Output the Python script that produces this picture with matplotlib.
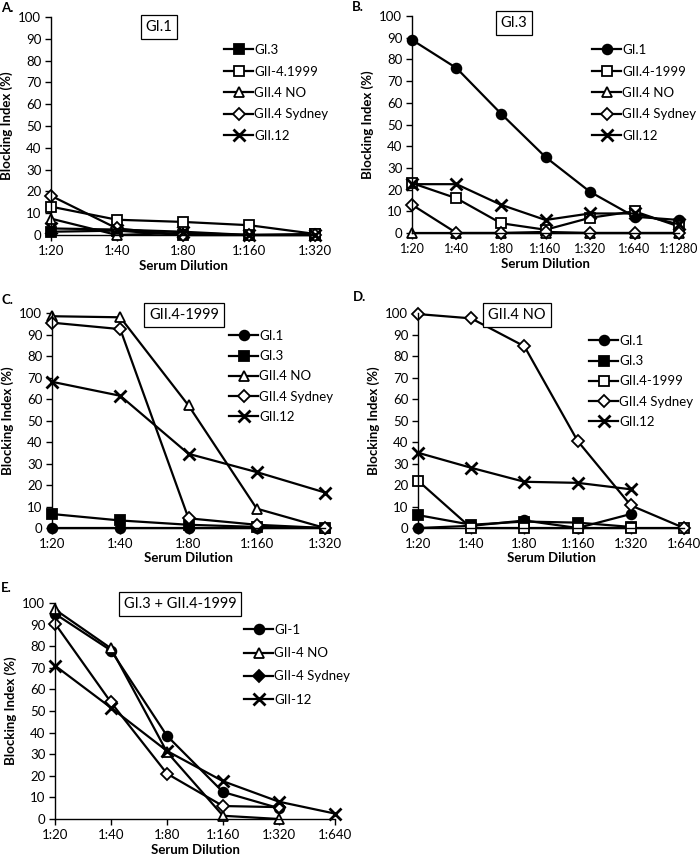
import numpy as np
import matplotlib
matplotlib.use("Agg")
import matplotlib.pyplot as plt

plt.rcParams['font.family'] = ['Lato', 'DejaVu Sans']

nan = np.nan

# Panel A: GI.1
dil_a = ["1:20", "1:40", "1:80", "1:160", "1:320"]
a_gi3 = [1.5, 2, 0, 0, 0.5]
a_gii4_1999 = [13, 7, 6, 4.5, 0.5]
a_gii4_no = [7.5, 0, 1, 0, 0]
a_sydney = [18, 3, 0, 0, 0]
a_gii12 = [3, 2.5, 1.5, 0, 0]

# Panel B: GI.3
dil_b = ["1:20", "1:40", "1:80", "1:160", "1:320", "1:640", "1:1280"]
b_gi1 = [89, 76, 55, 35, 19, 7.5, 6]
b_gii4_1999 = [23, 16, 4.5, 1.5, 7, 10, 3]
b_gii4_no = [0, 0, 0, 0, 0, 0, 0]
b_sydney = [13, 0, 0, 0.5, 0, 0, 0]
b_gii12 = [22.5, 22.5, 13, 6, 9, 9, 4]

# Panel C: GII.4-1999
dil_c = ["1:20", "1:40", "1:80", "1:160", "1:320"]
c_gi1 = [0, 0, 0, 0, 0]
c_gi3 = [6.5, 3.5, 1.5, 0.5, 0]
c_gii4_no = [98.5, 98, 57, 9, 0]
c_sydney = [95.5, 92.5, 4.5, 1.5, 0]
c_gii12 = [68, 61.5, 34.5, 26, 16.5]

# Panel D: GII.4 NO
dil_d = ["1:20", "1:40", "1:80", "1:160", "1:320", "1:640"]
d_gi1 = [0, 1, 3.5, 0, 6.5, nan]
d_gi3 = [6, 1.5, 3, 2.5, 0.5, nan]
d_gii4_1999 = [22, 0, 0, 0, 0, 0]
d_sydney = [99.5, 97.5, 84.5, 40.5, 10.5, 0]
d_gii12 = [35, 28, 21.5, 21, 18, nan]

# Panel E: GI.3 + GII.4-1999
dil_e = ["1:20", "1:40", "1:80", "1:160", "1:320", "1:640"]
e_gi1 = [95, 78, 38.5, 12.5, 5, nan]
e_gii4_no = [97, 79, 31, 1.5, 0, nan]
e_sydney = [90.5, 54, 21, 6, 5.5, nan]
e_gii12 = [71, 51.5, 31.5, 17.5, 8, 2.5]

W, H = 700, 857
fig = plt.figure(figsize=(W / 100, H / 100), dpi=100)

STYLES = {
    'circle': dict(marker='o', mfc='black'),
    'fsquare': dict(marker='s', mfc='black'),
    'osquare': dict(marker='s', mfc='white'),
    'triangle': dict(marker='^', mfc='white'),
    'diamond': dict(marker='D', mfc='white', ms=6.5),
    'cross': dict(marker='x', mew=2, ms=8),
}


def make_panel(x0, x1, y0, y1, letter, title, title_xy, dil, series, leg_xy, leg_space):
    ax = fig.add_axes([x0 / W, 1 - y1 / H, (x1 - x0) / W, (y1 - y0) / H])
    x = np.arange(len(dil))
    for label, vals, kind in series:
        kw = dict(color='black', lw=1.6, ms=7, mec='black', mew=1.3)
        kw.update(STYLES[kind])
        ax.plot(x, vals, label=label, clip_on=False, **kw)
    ax.set_xlim(0, len(dil) - 1)
    ax.set_ylim(0, 100)
    ax.set_yticks(range(0, 101, 10))
    ax.set_xticks(x)
    ax.set_xticklabels(dil)
    for s in ['top', 'right']:
        ax.spines[s].set_visible(False)
    for s in ['left', 'bottom']:
        ax.spines[s].set_linewidth(1.0)
    ax.tick_params(labelsize=9.5, length=4, width=1.0, pad=3)
    ax.set_ylabel("Blocking Index (%)", fontsize=9.5, fontweight='bold', labelpad=4)
    ax.set_xlabel("Serum Dilution", fontsize=9.5, fontweight='bold', labelpad=2)
    fig.text(letter[1] / W, 1 - letter[2] / H, letter[0], fontsize=9.5,
             fontweight='bold', va='center', ha='left')
    fig.text(title_xy[0] / W, 1 - title_xy[1] / H, title, fontsize=10.5,
             ha='center', va='center',
             bbox=dict(boxstyle='square,pad=0.35', fc='white', ec='black', lw=0.9))
    ax.legend(loc='upper left', bbox_to_anchor=(leg_xy[0] / W, 1 - leg_xy[1] / H),
              bbox_transform=fig.transFigure, frameon=False, fontsize=9.5,
              handlelength=2.2, handletextpad=0.1, labelspacing=leg_space,
              borderpad=0, borderaxespad=0)
    return ax


make_panel(51, 315, 17, 235, ("A.", 1, 8), "GI.1", (159, 27), dil_a,
           [("GI.3", a_gi3, 'fsquare'),
            ("GII-4.1999", a_gii4_1999, 'osquare'),
            ("GII.4 NO", a_gii4_no, 'triangle'),
            ("GII.4 Sydney", a_sydney, 'diamond'),
            ("GII.12", a_gii12, 'cross')],
           (224, 44), 0.72)

ax_b = make_panel(412, 679, 16, 233, ("B.", 352, 7), "GI.3", (514, 23), dil_b,
                  [("GI.1", b_gi1, 'circle'),
                   ("GII.4-1999", b_gii4_1999, 'osquare'),
                   ("GII.4 NO", b_gii4_no, 'triangle'),
                   ("GII.4 Sydney", b_sydney, 'diamond'),
                   ("GII.12", b_gii12, 'cross')],
                  (592, 44), 0.72)
ax_b.tick_params(axis='x', labelsize=9)

make_panel(52, 325, 313, 528, ("C.", 1, 300), "GII.4-1999", (184, 315), dil_c,
           [("GI.1", c_gi1, 'circle'),
            ("GI.3", c_gi3, 'fsquare'),
            ("GII.4 NO", c_gii4_no, 'triangle'),
            ("GII.4 Sydney", c_sydney, 'diamond'),
            ("GII.12", c_gii12, 'cross')],
           (229, 330), 0.62)

make_panel(418, 684, 313, 528, ("D.", 353, 297), "GII.4 NO", (517, 315), dil_d,
           [("GI.1", d_gi1, 'circle'),
            ("GI.3", d_gi3, 'fsquare'),
            ("GII.4-1999", d_gii4_1999, 'osquare'),
            ("GII.4 Sydney", d_sydney, 'diamond'),
            ("GII.12", d_gii12, 'cross')],
           (589, 335), 0.62)

ax_e = make_panel(55, 335, 603, 819, ("E.", 1, 588), "GI.3 + GII.4-1999", (180, 604), dil_e,
                  [("GI-1", e_gi1, 'circle'),
                   ("GII-4 NO", e_gii4_no, 'triangle'),
                   ("GII-4 Sydney", e_sydney, 'diamond'),
                   ("GII-12", e_gii12, 'cross')],
                  (244, 624), 0.85)
# panel E legend shows a filled diamond for Sydney
for h in ax_e.get_legend().legend_handles:
    if h.get_label() == "GII-4 Sydney":
        h.set_markerfacecolor('black')

fig.savefig("out.png", dpi=100)
